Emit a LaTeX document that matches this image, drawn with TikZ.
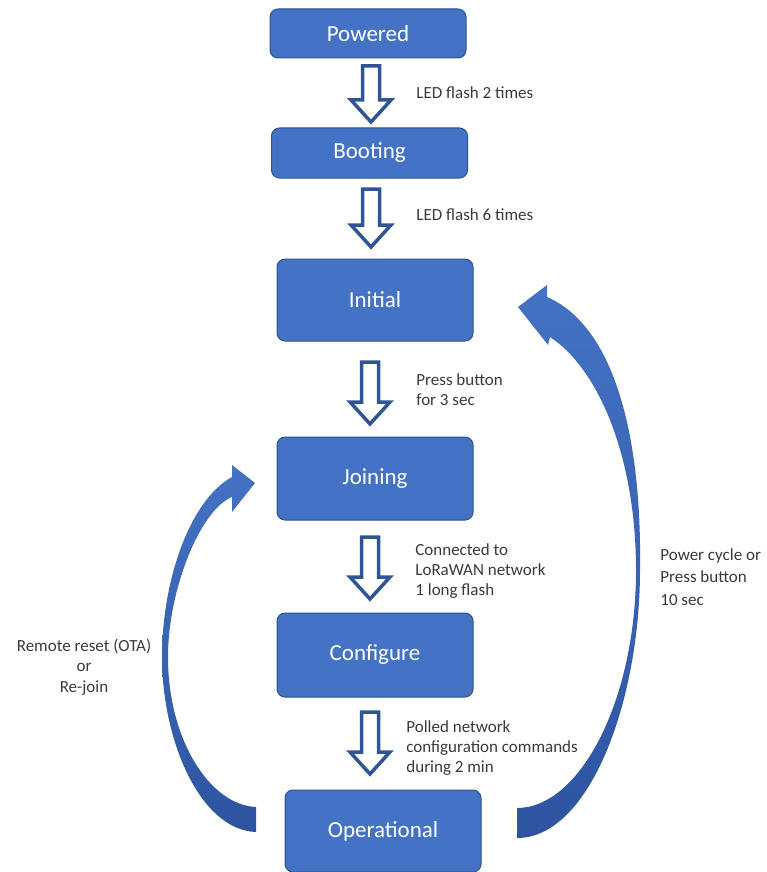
\documentclass[tikz,border=0pt]{standalone}
\usepackage{fontspec}
\setmainfont{Carlito}
\definecolor{boxblue}{HTML}{4472C4}
\definecolor{boxedge}{HTML}{2F528F}
\definecolor{arrowblue}{HTML}{2F5597}
\definecolor{tailblue}{HTML}{2E54A0}
\definecolor{labelgray}{HTML}{3A3A3A}
\tikzset{
    pics/downarrow/.style={code={
        \draw[hollow] (-8.5,0) -- (-8.5,#1-22) -- (-20,#1-22) -- (0,#1) -- (20,#1-22) -- (8.5,#1-22) -- (8.5,0) -- cycle;
    }}
}
\begin{document}
\begin{tikzpicture}[x=0.5pt,y=-0.5pt,
        state/.style={rectangle,rounded corners=4pt,draw=boxedge,line width=0.5pt,fill=boxblue,text=white,
            minimum width=98pt,inner sep=0pt,font=\fontsize{11.5}{14}\selectfont},
        note/.style={anchor=west,align=left,text=labelgray,inner sep=0pt,font=\fontsize{8.5}{10}\selectfont},
        hollow/.style={draw=arrowblue,line width=1.75pt,fill=white,line join=miter},
        bend arrow/.style={top color=boxblue,bottom color=tailblue,draw=none}]
    \useasboundingbox (0,0) rectangle (766,872);

    \node[state,minimum height=24.5pt] (powered) at (368,33.5) {Powered};
    \node[state,minimum height=25pt] (booting) at (369.5,153) {Booting};
    \node[state,minimum height=41pt] (initial) at (375,300) {Initial};
    \node[state,minimum height=41.5pt] (joining) at (375,478.5) {Joining};
    \node[state,minimum height=42pt] (configure) at (375,655) {Configure};
    \node[state,minimum height=41pt] (operational) at (383,831) {Operational};

    \pic at (371,66) {downarrow=56};
    \pic at (371,189) {downarrow=58};
    \pic at (370,362) {downarrow=62};
    \pic at (370,537) {downarrow=62};
    \pic at (370,712) {downarrow=62};

    \node[note] (flash2) at (416,93) {LED flash 2 times};
    \node[note] (flash6) at (416,215) {LED flash 6 times};
    \node[note] (press3) at (416,390) {Press button\\for 3 sec};
    \node[note] (connected) at (415,571) {Connected to\\LoRaWAN network\\1 long flash};
    \node[note] (polled) at (406,748) {Polled network\\configuration commands\\during 2 min};
    \node[note,font=\fontsize{8.5}{11.25}\selectfont] (cycle) at (660,577) {Power cycle or\\Press button\\10 sec};
    \node[note,anchor=center,align=center,font=\fontsize{8.5}{10.25}\selectfont] (remote) at (84,667) {Remote reset (OTA)\\or\\Re-join};

    \shade[bend arrow] (256,832) .. controls (200,830) and (162,740) .. (162,657)
        .. controls (162,580) and (190,500) .. (232,477) -- (232,465) -- (255,483) -- (232,512) -- (232,497)
        .. controls (200,510) and (168,590) .. (168,657)
        .. controls (168,740) and (210,805) .. (256,807) -- cycle;
    \shade[bend arrow] (517,838) .. controls (590,838) and (640,700) .. (640,570)
        .. controls (642,430) and (612,325) .. (547,297) -- (547,285) -- (518,307) -- (548,345) -- (550,337)
        .. controls (600,370) and (636,460) .. (636,570)
        .. controls (636,700) and (580,808) .. (517,808) -- cycle;
\end{tikzpicture}
\end{document}
